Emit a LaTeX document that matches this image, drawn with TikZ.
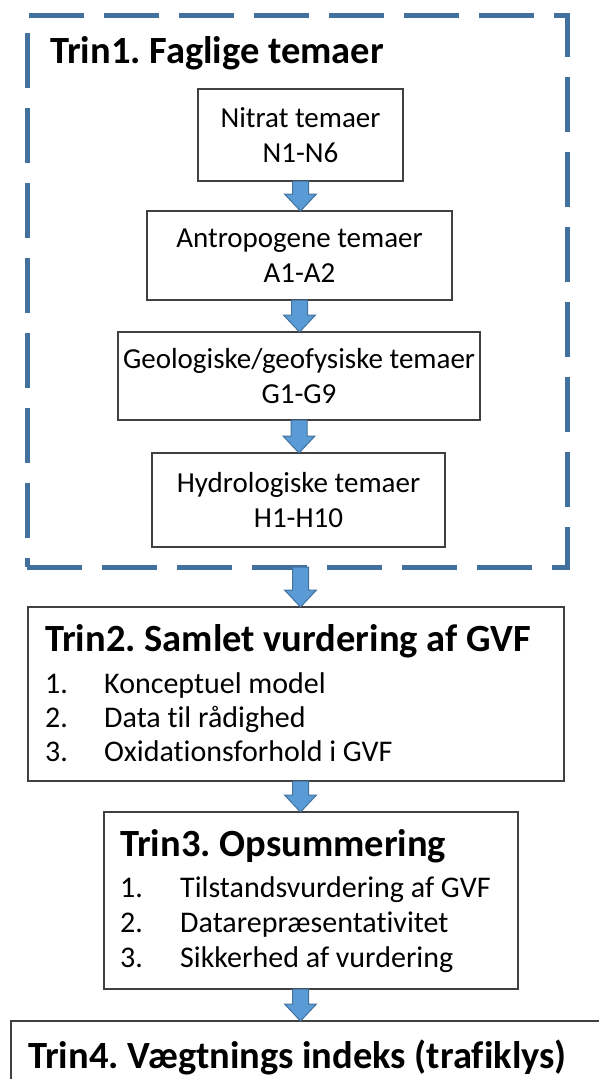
\documentclass[tikz,border=0pt]{standalone}
\usepackage{fontspec}
\setmainfont{Carlito}[Ligatures={NoCommon}]
\frenchspacing
\usetikzlibrary{positioning,calc}
\definecolor{dashblue}{RGB}{65,113,156}
\definecolor{arrowblue}{RGB}{91,155,213}
\tikzset{
  box/.style={draw=black!75, line width=1.5pt, align=center, inner sep=0pt, outer sep=0pt,
    font=\fontsize{29}{35}\selectfont},
  dashbox/.style={draw=dashblue, line width=5pt, dash pattern=on 55pt off 20pt,
    inner sep=0pt, outer sep=0pt},
  title/.style={font=\fontsize{38.5}{44}\selectfont\bfseries, inner sep=0pt, anchor=base west},
  item/.style={font=\fontsize{30}{35}\selectfont, inner sep=0pt, anchor=base west},
  bigarrow/.style={draw=dashblue, fill=arrowblue, line width=1pt,
    to path={let \p1=(\tikztostart), \p2=(\tikztotarget) in
      ({\x1-8pt},\y1) -- ({\x1+8pt},\y1) -- ({\x1+8pt},{\y2+17pt}) -- ({\x1+16pt},{\y2+17pt})
      -- (\x1,\y2) -- ({\x1-16pt},{\y2+17pt}) -- ({\x1-8pt},{\y2+17pt}) -- cycle}},
}
\begin{document}
\begin{tikzpicture}[x=1pt,y=-1pt]
  \useasboundingbox (0,0) rectangle (598,1079);
  % step 1
  \node[dashbox, minimum width=540, minimum height=552] (trin1) at (297,291) {};
  \node[title] (t1) at ([xshift=23,yshift=-48]trin1.north west) {Trin1. Faglige temaer};
  \node[box, minimum width=205, minimum height=92] (n1) at (300.5,135) {Nitrat temaer\\N1-N6};
  \node[box, minimum width=305, minimum height=89] (n2) at (299.5,255.5) {Antropogene temaer\\A1-A2};
  \node[box, minimum width=362, minimum height=88] (n3) at (299,376) {Geologiske/geofysiske temaer\\G1-G9};
  \node[box, minimum width=293, minimum height=94] (n4) at (298.5,500) {Hydrologiske temaer\\H1-H10};
  % step 2
  \node[box, minimum width=536, minimum height=174] (trin2) at (296,694) {};
  \node[title] (t2) at ([xshift=17,yshift=-44]trin2.north west) {Trin2. Samlet vurdering af GVF};
  \node[item] (t2a) at ([yshift=-42]t2.base west) {1.};
  \node[item] (t2b) at ([yshift=-34]t2a.base west) {2.};
  \node[item] (t2c) at ([yshift=-34]t2b.base west) {3.};
  \node[item] at ([xshift=59]t2a.base west) {Konceptuel model};
  \node[item] at ([xshift=59]t2b.base west) {Data til rådighed};
  \node[item] at ([xshift=59]t2c.base west) {Oxidationsforhold i GVF};
  % step 3
  \node[box, minimum width=414, minimum height=177] (trin3) at (311,900.5) {};
  \node[title] (t3) at ([xshift=16,yshift=-44]trin3.north west) {Trin3. Opsummering};
  \node[item] (t3a) at ([yshift=-41]t3.base west) {1.};
  \node[item] (t3b) at ([yshift=-35]t3a.base west) {2.};
  \node[item] (t3c) at ([yshift=-35]t3b.base west) {3.};
  \node[item] at ([xshift=60]t3a.base west) {Tilstandsvurdering af GVF};
  \node[item] at ([xshift=60]t3b.base west) {Datarepræsentativitet};
  \node[item] at ([xshift=60]t3c.base west) {Sikkerhed af vurdering};
  % step 4
  \node[box, minimum width=589, minimum height=100] (trin4) at (305.5,1071) {};
  \node[title] (t4) at ([xshift=17,yshift=-47]trin4.north west) {Trin4. Vægtnings indeks (trafiklys)};
  % arrows
  \draw[bigarrow] (n1.south) to (n2.north);
  \draw[bigarrow] (n2.south) to (n3.north);
  \draw[bigarrow] (n3.south) to (n4.north);
  \draw[bigarrow] (trin1.south -| n1.south) to (trin2.north -| n1.south);
  \draw[bigarrow] (trin2.south -| n1.south) to (trin3.north -| n1.south);
  \draw[bigarrow] (trin3.south -| n1.south) to (trin4.north -| n1.south);
\end{tikzpicture}
\end{document}
